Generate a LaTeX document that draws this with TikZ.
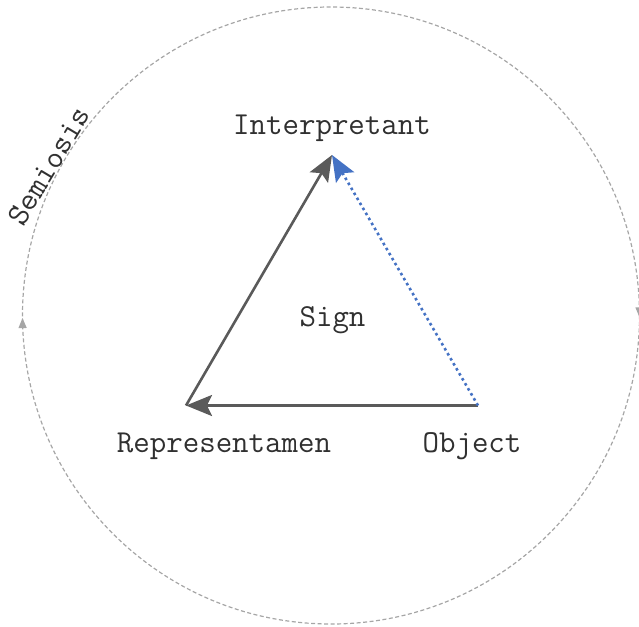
\documentclass[tikz,border=0pt]{standalone}
\usetikzlibrary{arrows.meta,decorations.markings}
\definecolor{arrowgray}{HTML}{5A5A5A}
\definecolor{signblue}{HTML}{4472C4}
\definecolor{circlegray}{HTML}{A6A6A6}
\definecolor{labelgray}{HTML}{303030}
\newcommand{\sgnfont}{\ttfamily\fontsize{32}{36}\selectfont}
\begin{document}
\begin{tikzpicture}[x=1pt,y=1pt,
  lbl/.style={font=\sgnfont, text=labelgray, inner sep=0pt, anchor=base},
  relarrow/.style={draw=arrowgray, line width=2.6pt, -{Stealth[length=26pt,width=21pt,inset=5pt]}},
  bluearrow/.style={draw=signblue, line width=2.6pt, dash pattern=on 2.6pt off 3.2pt, -{Stealth[length=26pt,width=21pt,inset=5pt]}},
  cyclecircle/.style={draw=circlegray, line width=1.2pt, dash pattern=on 4pt off 2.5pt}]
\useasboundingbox (0,0) rectangle (639,-626);
% circle of semiosis
\coordinate (C) at (331,-315.5);
\draw[cyclecircle, postaction={decorate}, decoration={markings,
   mark=at position 0.001 with {\arrow{Triangle[length=10pt,width=8pt,fill=circlegray,color=circlegray]}},
   mark=at position 0.4987 with {\arrow{Triangle[length=10pt,width=8pt,fill=circlegray,color=circlegray]}}}]
  (C) ++(0:308.5) arc[start angle=0, end angle=-360, radius=308.5];
\node[font=\sgnfont, text=labelgray, inner sep=0pt, rotate=59] (semiosis) at (49,-166) {Semiosis};
% vertices
\coordinate (I) at (332,-155);
\coordinate (R) at (186,-405.5);
\coordinate (O) at (478,-405.5);
% labels
\node[lbl] (interp) at (332,-134) {Interpretant};
\node[lbl] (repr) at (224,-452) {Representamen};
\node[lbl] (obj) at (472,-452) {Object};
\node[lbl] (sign) at (332.5,-326) {Sign};
% relations
\draw[relarrow] (O) -- (R);
\draw[relarrow] (R) -- (I);
\draw[bluearrow] (O) -- (I);
\end{tikzpicture}
\end{document}
